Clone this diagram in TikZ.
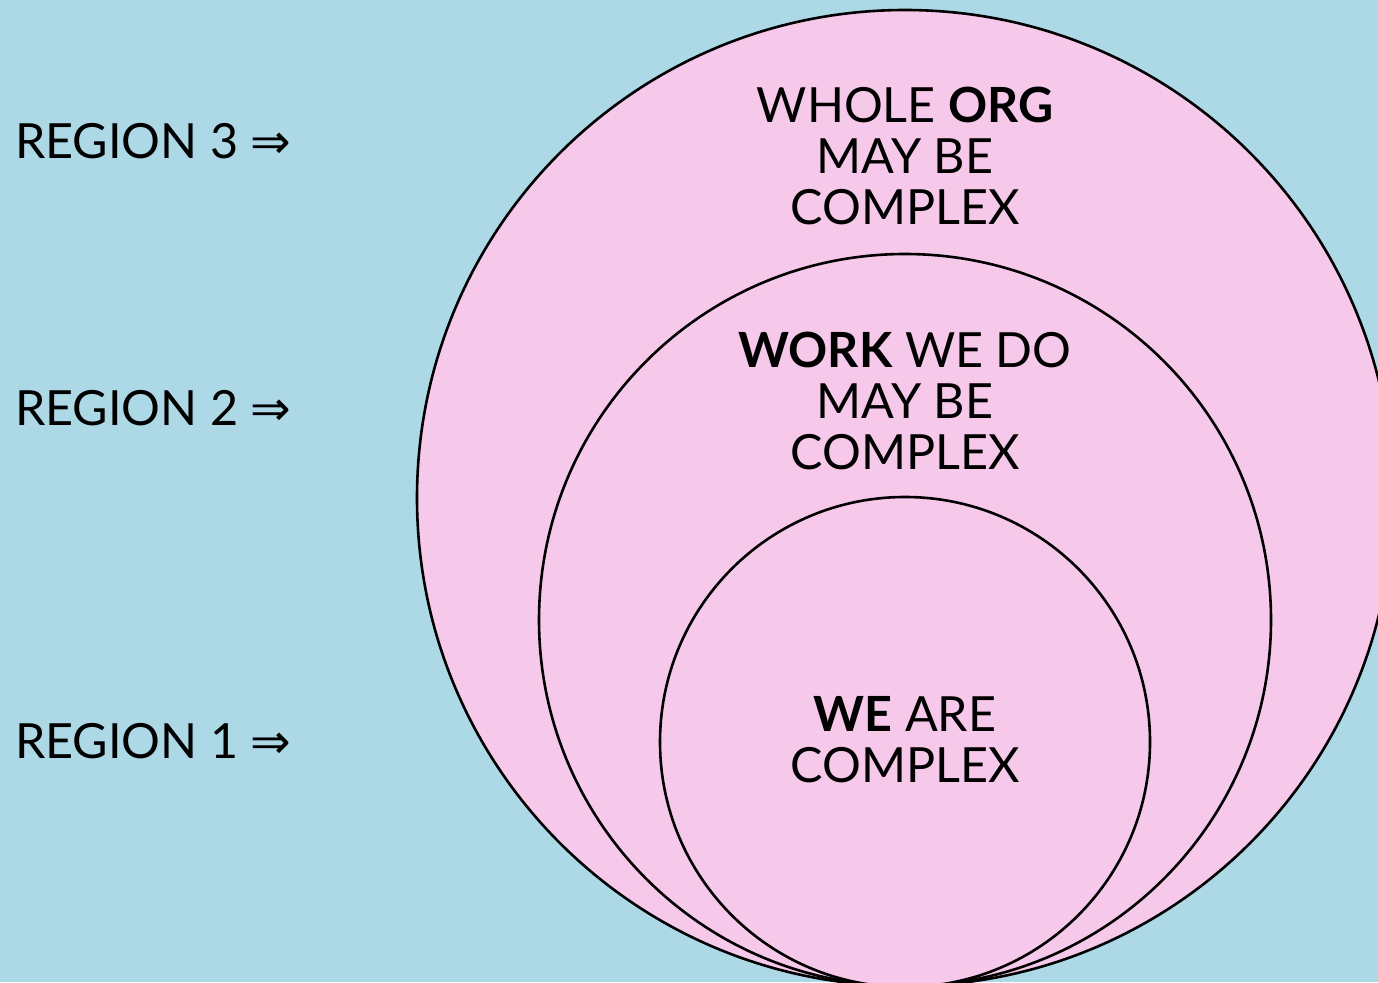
\documentclass[tikz,border=0pt]{standalone}
\usepackage{fontspec}
\setmainfont{Lato}
\newfontfamily\arrowfont{DejaVu Sans}
\definecolor{sky}{HTML}{ADD8E6}
\definecolor{blush}{HTML}{F6C8EA}
\begin{document}
\begin{tikzpicture}[x=1pt,y=-1pt,
  ring/.style={draw=black, line width=2.6pt, fill=blush},
  txt/.style={anchor=base, inner sep=0pt, font=\fontsize{48.5}{51}\selectfont},
  side/.style={txt, anchor=base west}]
\useasboundingbox (0,0) rectangle (1378,982);
\clip (0,0) rectangle (1378,982);
\fill[sky] (0,0) rectangle (1378,982);

% three nested regions, all touching at the bottom
\draw[ring] (905,498) circle[radius=488];
\draw[ring] (905,620) circle[radius=366];
\draw[ring] (905,742) circle[radius=245];

% region captions on the left
\node[side] (r3) at (15,158) {REGION 3 {\arrowfont ⇒}};
\node[side] (r2) at (15,425) {REGION 2 {\arrowfont ⇒}};
\node[side] (r1) at (15,758) {REGION 1 {\arrowfont ⇒}};

% outer region
\node[txt] (o1) at (905,122) {WHOLE \textbf{ORG}};
\node[txt] (o2) at (905,173) {MAY BE};
\node[txt] (o3) at (905,224) {COMPLEX};

% middle region
\node[txt] (m1) at (905,367) {\textbf{WORK} WE DO};
\node[txt] (m2) at (905,418) {MAY BE};
\node[txt] (m3) at (905,469) {COMPLEX};

% inner region
\node[txt] (i1) at (905,731) {\textbf{WE} ARE};
\node[txt] (i2) at (905,782) {COMPLEX};
\end{tikzpicture}
\end{document}
